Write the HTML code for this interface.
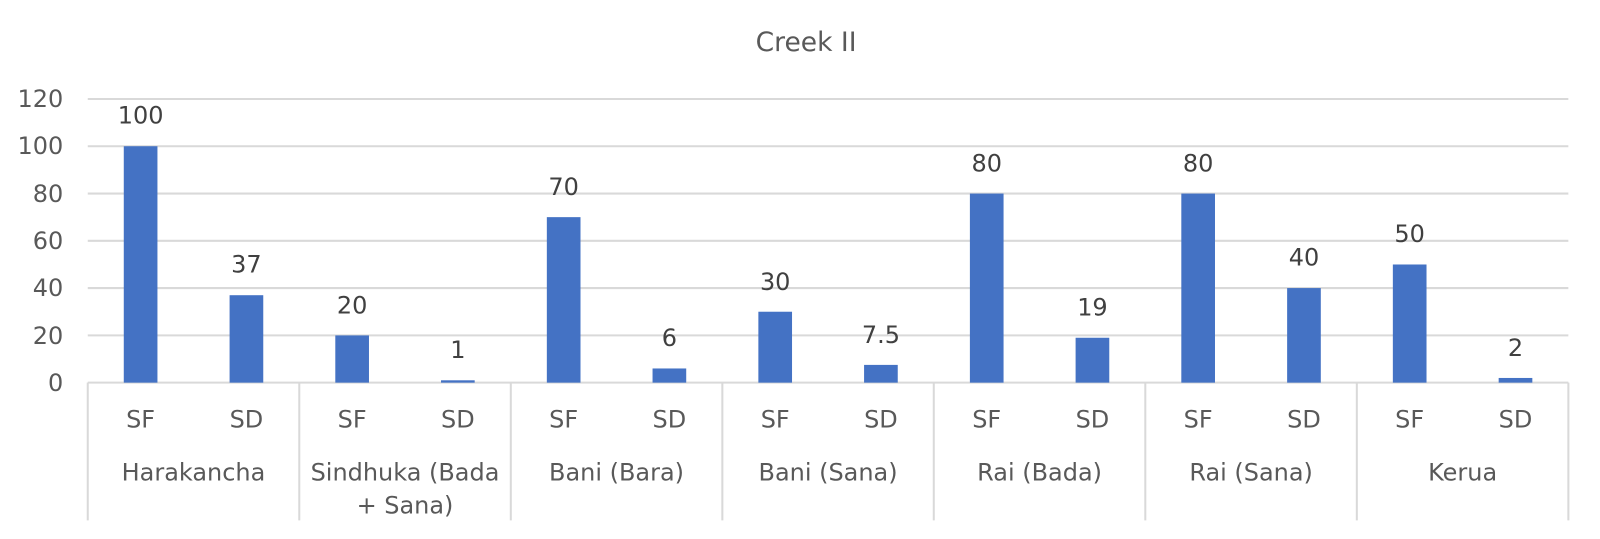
<!DOCTYPE html>
<html><head><meta charset="utf-8"><style>html,body{margin:0;padding:0;background:#fff}</style></head>
<body>
<svg width="1600" height="534" xmlns="http://www.w3.org/2000/svg" font-family="'DejaVu Sans','Liberation Sans',sans-serif">
<g transform="scale(1.0204)">
<text x="790" y="50" font-size="26" fill="#595959" text-anchor="middle">Creek II</text>
<g stroke="#d9d9d9" stroke-width="2">
<line x1="86" x2="1537" y1="97" y2="97"/><line x1="86" x2="1537" y1="143.3" y2="143.3"/>
<line x1="86" x2="1537" y1="189.7" y2="189.7"/><line x1="86" x2="1537" y1="236" y2="236"/>
<line x1="86" x2="1537" y1="282.3" y2="282.3"/><line x1="86" x2="1537" y1="328.7" y2="328.7"/>
<line x1="86" x2="1537" y1="375" y2="375"/>
<line x1="86" x2="86" y1="375" y2="510"/><line x1="293.3" x2="293.3" y1="375" y2="510"/>
<line x1="500.6" x2="500.6" y1="375" y2="510"/><line x1="707.9" x2="707.9" y1="375" y2="510"/>
<line x1="915.1" x2="915.1" y1="375" y2="510"/><line x1="1122.4" x2="1122.4" y1="375" y2="510"/>
<line x1="1329.7" x2="1329.7" y1="375" y2="510"/><line x1="1537" x2="1537" y1="375" y2="510"/>
</g>
<g font-size="23.5" fill="#595959" text-anchor="end">
<text x="62" y="105">120</text><text x="62" y="151">100</text><text x="62" y="198">80</text>
<text x="62" y="244">60</text><text x="62" y="290">40</text><text x="62" y="337">20</text><text x="62" y="383">0</text>
</g>
<g fill="#4472c4">
<rect x="121.3" y="143.3" width="33" height="231.7"/>
<rect x="225" y="289.3" width="33" height="85.7"/>
<rect x="328.6" y="328.7" width="33" height="46.3"/>
<rect x="432.2" y="372.7" width="33" height="2.3"/>
<rect x="535.9" y="212.8" width="33" height="162.2"/>
<rect x="639.5" y="361.1" width="33" height="13.9"/>
<rect x="743.2" y="305.5" width="33" height="69.5"/>
<rect x="846.8" y="357.6" width="33" height="17.4"/>
<rect x="950.5" y="189.7" width="33" height="185.3"/>
<rect x="1054.1" y="331" width="33" height="44"/>
<rect x="1157.7" y="189.7" width="33" height="185.3"/>
<rect x="1261.4" y="282.3" width="33" height="92.7"/>
<rect x="1365" y="259.2" width="33" height="115.8"/>
<rect x="1468.7" y="370.4" width="33" height="4.6"/>
</g>
<g font-size="23.5" text-anchor="middle" fill="#404040">
<text x="137.8" y="121">100</text><text x="241.5" y="267">37</text>
<text x="345.1" y="307">20</text><text x="448.7" y="351">1</text>
<text x="552.4" y="191">70</text><text x="656" y="339">6</text>
<text x="759.7" y="284">30</text><text x="863.3" y="336">7.5</text>
<text x="967" y="168">80</text><text x="1070.6" y="309">19</text>
<text x="1174.2" y="168">80</text><text x="1277.9" y="260">40</text>
<text x="1381.5" y="237">50</text><text x="1485.2" y="349">2</text>
</g>
<g font-size="23.5" text-anchor="middle" fill="#595959">
<text x="137.8" y="419">SF</text><text x="241.5" y="419">SD</text>
<text x="345.1" y="419">SF</text><text x="448.7" y="419">SD</text>
<text x="552.4" y="419">SF</text><text x="656" y="419">SD</text>
<text x="759.7" y="419">SF</text><text x="863.3" y="419">SD</text>
<text x="967" y="419">SF</text><text x="1070.6" y="419">SD</text>
<text x="1174.2" y="419">SF</text><text x="1277.9" y="419">SD</text>
<text x="1381.5" y="419">SF</text><text x="1485.2" y="419">SD</text>
<text x="189.6" y="471">Harakancha</text>
<text x="396.9" y="471">Sindhuka (Bada</text><text x="396.9" y="503">+ Sana)</text>
<text x="604.2" y="471">Bani (Bara)</text>
<text x="811.5" y="471">Bani (Sana)</text>
<text x="1018.8" y="471">Rai (Bada)</text>
<text x="1226.1" y="471">Rai (Sana)</text>
<text x="1433.4" y="471">Kerua</text>
</g>
</g>
</svg>
</body></html>
